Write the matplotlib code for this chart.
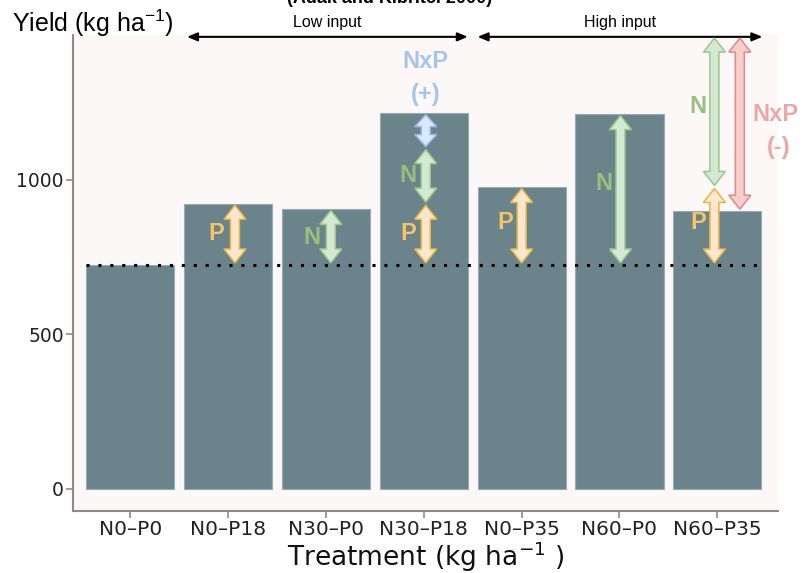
import numpy as np
import matplotlib
matplotlib.use('Agg')
import matplotlib.pyplot as plt
from matplotlib.patches import Polygon

# datos (kg ha-1)
treatments = ['N0\u2013P0', 'N0\u2013P18', 'N30\u2013P0', 'N30\u2013P18',
              'N0\u2013P35', 'N60\u2013P0', 'N60\u2013P35']
yield_kg = [726, 923, 906, 1216, 977, 1213, 900]
yticks = [0, 500, 1000]

base = yield_kg[0]
eff_p18 = yield_kg[1] - base
eff_n30 = yield_kg[2] - base
eff_p35 = yield_kg[4] - base
eff_n60 = yield_kg[5] - base

# colores
bar_col = '#6b838a'
cols = {'P': ('#ffe6cc', '#e3b54a', '#f2c46c'),
        'N': ('#d5e8d4', '#9cc78a', '#97c07f'),
        'B': ('#dae8fc', '#9ab6e0', '#a9c4eb'),
        'R': ('#f8cecc', '#dd8a87', '#eaa9a7')}

fig = plt.figure(figsize=(8.07, 5.73), dpi=100)
ax = fig.add_axes([73/807, 1-511/573, 705/807, 476/573])
ax.set_facecolor('#fdf8f8')

x = np.arange(len(treatments))
ax.bar(x, yield_kg, width=0.9, color=bar_col, edgecolor='#9aabb0', linewidth=0.8, zorder=2)
ax.hlines(base, -0.45, 6.45, colors='black', linewidth=2.2, linestyles=(0, (1, 2.9)), zorder=3)

ax.set_xlim(-0.585, 6.62)
ax.set_ylim(-72, 1469)
ax.set_xticks(x)
ax.set_xticklabels(treatments, fontsize=14.5, color='#222222')
ax.set_yticks(yticks)
ax.set_yticklabels([str(v) for v in yticks], fontsize=13.5, color='#222222')
for s in ['top', 'right']:
    ax.spines[s].set_visible(False)
for s in ['left', 'bottom']:
    ax.spines[s].set_color('#8c8c8c')
    ax.spines[s].set_linewidth(1.5)
ax.tick_params(colors='#8c8c8c', length=5, width=1.2, labelcolor='#222222', pad=1.5)
ax.set_xlabel('Treatment (kg ha$^{-1}$ )', fontsize=19, color='#111111', labelpad=0)


def flecha(xc, y0, y1, tipo, sw=4.5, hw=11, hl=14):
    # flecha doble gruesa, dimensiones en pixeles
    fill, edge, _ = cols[tipo]
    (px, pa), (_, pb) = ax.transData.transform([(xc, y0), (xc, y1)])
    lo, hi = min(pa, pb), max(pa, pb)
    h = min(hl, 0.4*(hi - lo))
    pts = [(px, lo), (px+hw, lo+h), (px+sw, lo+h), (px+sw, hi-h), (px+hw, hi-h),
           (px, hi), (px-hw, hi-h), (px-sw, hi-h), (px-sw, lo+h), (px-hw, lo+h)]
    pts = ax.transData.inverted().transform(pts)
    ax.add_patch(Polygon(pts, closed=True, facecolor=fill, edgecolor=edge,
                         linewidth=1.1, zorder=4, clip_on=False))


def etiqueta(xc, yc, txt, tipo, fs=17):
    ax.text(xc, yc, txt, color=cols[tipo][2], fontsize=fs, fontweight='bold',
            ha='center', va='center', family='Liberation Sans', zorder=5, clip_on=False)


g = 5
# N0-P18
flecha(1.07, base + g, base + eff_p18 - g, 'P')
etiqueta(0.88, 826, 'P', 'P')
# N30-P0
flecha(2.05, base + g, base + eff_n30 - g, 'N')
etiqueta(1.86, 813, 'N', 'N')
# N30-P18
flecha(3.02, base + g, base + eff_p18 - g, 'P')
flecha(3.02, base + eff_p18 + g, base + eff_p18 + eff_n30 - g, 'N')
flecha(3.02, base + eff_p18 + eff_n30 + g, yield_kg[3] - g, 'B', hl=12)
etiqueta(2.84, 826, 'P', 'P')
etiqueta(2.84, 1013, 'N', 'N')
etiqueta(3.02, 1384, 'NxP', 'B')
etiqueta(3.02, 1277, '(+)', 'B')
# N0-P35
flecha(4.0, base + g, base + eff_p35 - g, 'P')
etiqueta(3.83, 861, 'P', 'P')
# N60-P0
flecha(5.01, base + g, base + eff_n60 - g, 'N')
etiqueta(4.84, 987, 'N', 'N')
# N60-P35
flecha(5.97, base + g, base + eff_p35 - g, 'P')
flecha(5.97, base + eff_p35 + g, base + eff_p35 + eff_n60 - g, 'N')
flecha(6.23, yield_kg[6] + g, base + eff_p35 + eff_n60 - g, 'R')
etiqueta(5.8, 861, 'P', 'P')
etiqueta(5.8, 1239, 'N', 'N')
etiqueta(6.59, 1213, 'NxP', 'R')
etiqueta(6.63, 1106, '(-)', 'R')

# niveles de insumo
for xa, xb, lab in [(0.58, 3.45, 'Low input'), (3.55, 6.46, 'High input')]:
    ax.annotate('', xy=(xa, 1463), xytext=(xb, 1463), xycoords='data',
                arrowprops=dict(arrowstyle='<|-|>,head_length=0.6,head_width=0.25',
                                color='black', lw=1.5, shrinkA=0, shrinkB=0),
                annotation_clip=False)
    ax.text((xa + xb)/2, 1510, lab, fontsize=11.5, ha='center', va='center',
            family='Liberation Sans', clip_on=False)

fig.text(12/807, 1-23/573, 'Yield (kg ha$^{\\mathregular{-1}}$)', fontsize=18,
         family='Liberation Sans', ha='left', va='center')
fig.text(390/807, 1-7/573, '(Adak and Kibritci 2000)', fontsize=13, fontweight='bold',
         family='Liberation Sans', ha='center', va='bottom')

fig.savefig('out.png', dpi=100)
